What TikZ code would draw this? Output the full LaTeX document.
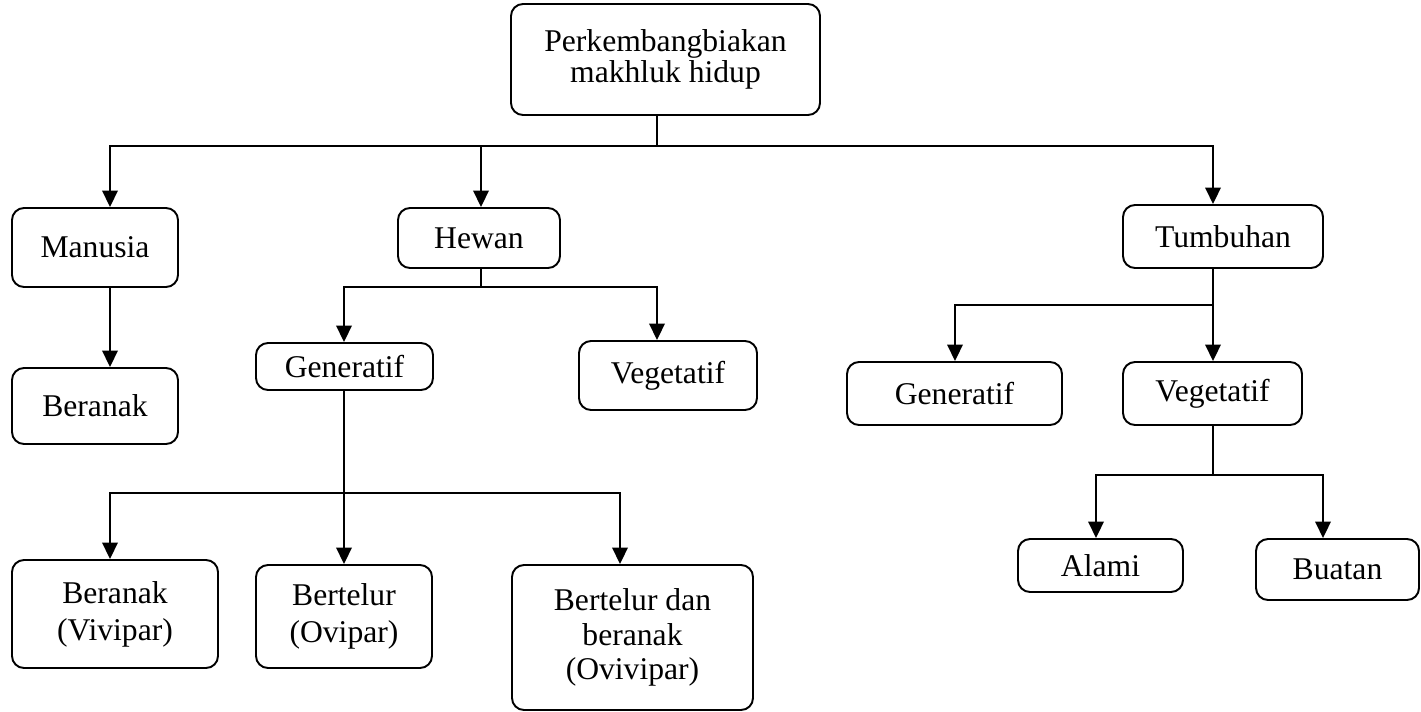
\documentclass[tikz,border=0pt]{standalone}
\usepackage{fontspec}
\setmainfont{Liberation Serif}
\usetikzlibrary{arrows.meta}
\tikzset{%
    box/.style={draw,line width=1.1pt,rounded corners=2.4mm,align=center,inner sep=0pt,font=\fontsize{18}{20.5}\selectfont},
    arr/.style={line width=1.1pt,-{Triangle[width=3.1mm,length=3.3mm]}}
}

\begin{document}
\begin{tikzpicture}[x=0.2mm,y=-0.2mm,line width=1.1pt]
            \useasboundingbox (0,0) rectangle (1421,711);

            \node[box,minimum width=61.8mm,minimum height=22.2mm,font=\fontsize{18}{17.5}\selectfont] (mh) at (665.5,59.5) {Perkembangbiakan\\makhluk hidup};
            \node[box,minimum width=33.2mm,minimum height=15.8mm] (man) at (95,247.5) {Manusia};
            \node[box,minimum width=33.2mm,minimum height=15.2mm] (manb) at (95,406) {Beranak};
            \node[box,minimum width=32.4mm,minimum height=12mm] (hw) at (479,238) {Hewan};
            \node[box,minimum width=35.4mm,minimum height=9.4mm] (hgen) at (344.5,366.5) {Generatif};
            \node[box,minimum width=35.6mm,minimum height=13.8mm] (hveg) at (668,375.5) {Vegetatif};
            \node[box,minimum width=41.2mm,minimum height=21.6mm,font=\fontsize{18}{21}\selectfont] (vivi) at (115,614) {Beranak\\(Vivipar)};
            \node[box,minimum width=35.2mm,minimum height=20.6mm,font=\fontsize{18}{21}\selectfont] (ovi) at (344,616.5) {Bertelur\\(Ovipar)};
            \node[box,minimum width=48.2mm,minimum height=29mm,font=\fontsize{18}{19.5}\selectfont] (ovivi) at (632.5,637.5) {Bertelur dan\\beranak\\(Ovivipar)};
            \node[box,minimum width=40mm,minimum height=12.6mm] (tb) at (1223,236.5) {Tumbuhan};
            \node[box,minimum width=43mm,minimum height=12.6mm] (tgen) at (954.5,393.5) {Generatif};
            \node[box,minimum width=35.8mm,minimum height=12.6mm] (tveg) at (1212.5,393.5) {Vegetatif};
            \node[box,minimum width=33mm,minimum height=10.6mm] (alm) at (1100.5,565.5) {Alami};
            \node[box,minimum width=32.6mm,minimum height=12.2mm] (bua) at (1337.5,569.5) {Buatan};

            % top level
            \coordinate (j0) at (657,146);
            \draw (j0 |- mh.south) -- (j0);
            \draw[arr] (j0) -| (110,0 |- man.north);
            \draw[arr] (j0) -| (481,0 |- hw.north);
            \draw[arr] (j0) -| (1213,0 |- tb.north);
            \draw[arr] (man.south -| 110,0) -- (manb.north -| 110,0);

            % hewan
            \coordinate (j1) at (481,287);
            \draw (j1 |- hw.south) -- (j1);
            \draw[arr] (j1) -| (344,0 |- hgen.north);
            \draw[arr] (j1) -| (657,0 |- hveg.north);
            \coordinate (j2) at (344,493);
            \draw[arr] (hgen.south -| j2) -- (ovi.north -| j2);
            \draw[arr] (j2) -| (110,0 |- vivi.north);
            \draw[arr] (j2) -| (620,0 |- ovivi.north);

            % tumbuhan
            \coordinate (j3) at (1213,305);
            \draw[arr] (tb.south -| j3) -- (tveg.north -| j3);
            \draw[arr] (j3) -| (955,0 |- tgen.north);
            \coordinate (j4) at (1213,475);
            \draw (tveg.south -| j4) -- (j4);
            \draw[arr] (j4) -| (1096,0 |- alm.north);
            \draw[arr] (j4) -| (1323,0 |- bua.north);
\end{tikzpicture}
\end{document}
